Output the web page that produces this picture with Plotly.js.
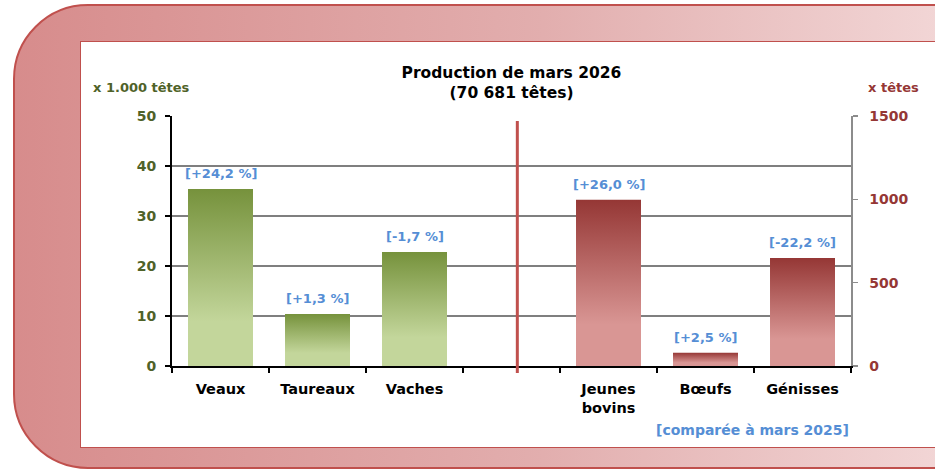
<!DOCTYPE html>
<html>
<head>
<meta charset="utf-8">
<script src="https://cdn.plot.ly/plotly-3.0.1.min.js"></script>
<style>
  html, body { margin: 0; padding: 0; background: #ffffff; }
  #wrap { position: relative; width: 935px; height: 469px; overflow: hidden; background: #ffffff; }
  #outer { position: absolute; left: 13px; top: 4px; width: 960px; height: 461px;
           border: 2px solid #C0504D; border-radius: 75px 0 0 75px;
           background: linear-gradient(to right, #D78C8C 0%, #E2AEAE 55%, #F3D9D9 100%); }
  #inner { position: absolute; left: 80px; top: 41px; width: 900px; height: 405px;
           border: 1px solid #C0504D; background: #ffffff; }
  #chart { position: absolute; left: 0; top: 0; width: 935px; height: 469px; }
</style>
</head>
<body>
<div id="wrap"><div id="outer"></div><div id="inner"></div><div id="chart"></div></div>
<script>
// ---- data ----
const categories = ["Veaux", "Taureaux", "Vaches", " ", "Jeunes<br>bovins", "Bœufs", "Génisses"];
const leftCats = ["Veaux", "Taureaux", "Vaches"];
const leftValues = [35.4, 10.4, 22.8];
const leftChanges = ["[+24,2 %]", "[+1,3 %]", "[-1,7 %]"];
const rightCats = ["Jeunes<br>bovins", "Bœufs", "Génisses"];
const rightValues = [997, 80, 648];
const rightChanges = ["[+26,0 %]", "[+2,5 %]", "[-22,2 %]"];
const leftTicks = [0, 10, 20, 30, 40, 50];
const rightTicks = [0, 500, 1000, 1500];
const separatorCat = " ";
const titleText = "Production de mars 2026<br>(70 681 têtes)";
const leftUnit = "x 1.000 têtes";
const rightUnit = "x têtes";
const noteText = "[comparée à mars 2025]";

const FONT = "DejaVu Sans, Arial, sans-serif";
const GREEN_TXT = "#4F6228";
const RED_TXT = "#953735";
const BLUE = "#558ED5";

const traces = [
  { type: "bar", x: leftCats, y: leftValues, yaxis: "y", marker: { color: "#9BBB59" },
    hoverinfo: "skip", showlegend: false },
  { type: "bar", x: rightCats, y: rightValues, yaxis: "y2", marker: { color: "#C0504D" },
    hoverinfo: "skip", showlegend: false }
];

const annotations = [];
leftCats.forEach((c, i) => annotations.push({
  x: c, y: leftValues[i], xref: "x", yref: "y", text: leftChanges[i], showarrow: false,
  yanchor: "bottom", yshift: 6, font: { family: FONT, size: 13, color: BLUE, weight: "bold" }
}));
rightCats.forEach((c, i) => annotations.push({
  x: c, y: rightValues[i], xref: "x", yref: "y2", text: rightChanges[i], showarrow: false,
  yanchor: "bottom", yshift: 6, font: { family: FONT, size: 13, color: BLUE, weight: "bold" }
}));
annotations.push({ xref: "paper", yref: "paper", x: -0.12, y: 1.115, xanchor: "left", yanchor: "middle",
  text: leftUnit, showarrow: false, font: { family: FONT, size: 13, color: GREEN_TXT, weight: "bold" } });
annotations.push({ xref: "paper", yref: "paper", x: 1.022, y: 1.115, xanchor: "left", yanchor: "middle",
  text: rightUnit, showarrow: false, font: { family: FONT, size: 13, color: RED_TXT, weight: "bold" } });
annotations.push({ xref: "paper", yref: "paper", x: 1.0, y: -0.255, xanchor: "right", yanchor: "middle",
  text: noteText, showarrow: false, font: { family: FONT, size: 14, color: BLUE, weight: "bold" } });

const layout = {
  width: 935, height: 469,
  margin: { l: 172, r: 84, t: 116, b: 103 },
  paper_bgcolor: "rgba(0,0,0,0)", plot_bgcolor: "rgba(0,0,0,0)",
  font: { family: FONT, color: "#000000" },
  title: { text: titleText, x: 0.5, xref: "paper", xanchor: "center",
           y: 1 - 78 / 469, yref: "container", yanchor: "middle",
           font: { family: FONT, size: 15.5, color: "#000000", weight: "bold" } },
  bargap: 0.33,
  xaxis: {
    type: "category", categoryorder: "array", categoryarray: categories,
    range: [-0.5, categories.length - 0.5],
    tickson: "boundaries", ticks: "outside", ticklen: 5, tickwidth: 2, tickcolor: "#000000",
    showline: true, linecolor: "#000000", linewidth: 2, showgrid: false,
    ticklabelstandoff: 9,
    tickfont: { family: FONT, size: 14.5, color: "#000000", weight: "bold" },
    fixedrange: true
  },
  yaxis: {
    range: [0, 50], tickvals: leftTicks, ticks: "outside", ticklen: 5, tickwidth: 2, tickcolor: "#000000",
    showline: true, linecolor: "#000000", linewidth: 2,
    showgrid: true, gridcolor: "#7F7F7F", gridwidth: 1.5, zeroline: false,
    ticklabelstandoff: 6,
    tickfont: { family: FONT, size: 14, color: GREEN_TXT, weight: "bold" }, fixedrange: true
  },
  yaxis2: {
    overlaying: "y", side: "right", range: [0, 1500], tickvals: rightTicks,
    ticks: "outside", ticklen: 5, tickwidth: 1.5, tickcolor: "#8C8C8C",
    showline: true, linecolor: "#8C8C8C", linewidth: 1.5, showgrid: false, zeroline: false,
    ticklabelstandoff: 9,
    tickfont: { family: FONT, size: 14, color: RED_TXT, weight: "bold" }, fixedrange: true
  },
  shapes: [{
    type: "line", xref: "x", yref: "paper",
    x0: categories.indexOf(separatorCat) + 0.06, x1: categories.indexOf(separatorCat) + 0.06,
    y0: -0.028, y1: 0.98, line: { color: "#C0504D", width: 3 }
  }],
  annotations: annotations
};

Plotly.newPlot("chart", traces, layout, { displayModeBar: false, staticPlot: true }).then(function (gd) {
  const svg = gd.querySelector(".main-svg");
  const ns = "http://www.w3.org/2000/svg";
  const defs = document.createElementNS(ns, "defs");
  function grad(id, top, bottom) {
    const g = document.createElementNS(ns, "linearGradient");
    g.setAttribute("id", id);
    g.setAttribute("x1", "0"); g.setAttribute("y1", "0");
    g.setAttribute("x2", "0"); g.setAttribute("y2", "1");
    [[0, top], [0.75, bottom], [1, bottom]].forEach(function (s) {
      const st = document.createElementNS(ns, "stop");
      st.setAttribute("offset", s[0]);
      st.setAttribute("stop-color", s[1]);
      g.appendChild(st);
    });
    defs.appendChild(g);
  }
  grad("gGreen", "#76923C", "#C3D69B");
  grad("gRed", "#953735", "#D99694");
  svg.insertBefore(defs, svg.firstChild);
  const tr = gd.querySelectorAll(".barlayer .trace");
  tr.forEach(function (t, i) {
    t.querySelectorAll(".point path").forEach(function (p) {
      p.style.fill = i === 0 ? "url(#gGreen)" : "url(#gRed)";
      p.style.stroke = "none";
    });
  });
});
</script>
</body>
</html>
